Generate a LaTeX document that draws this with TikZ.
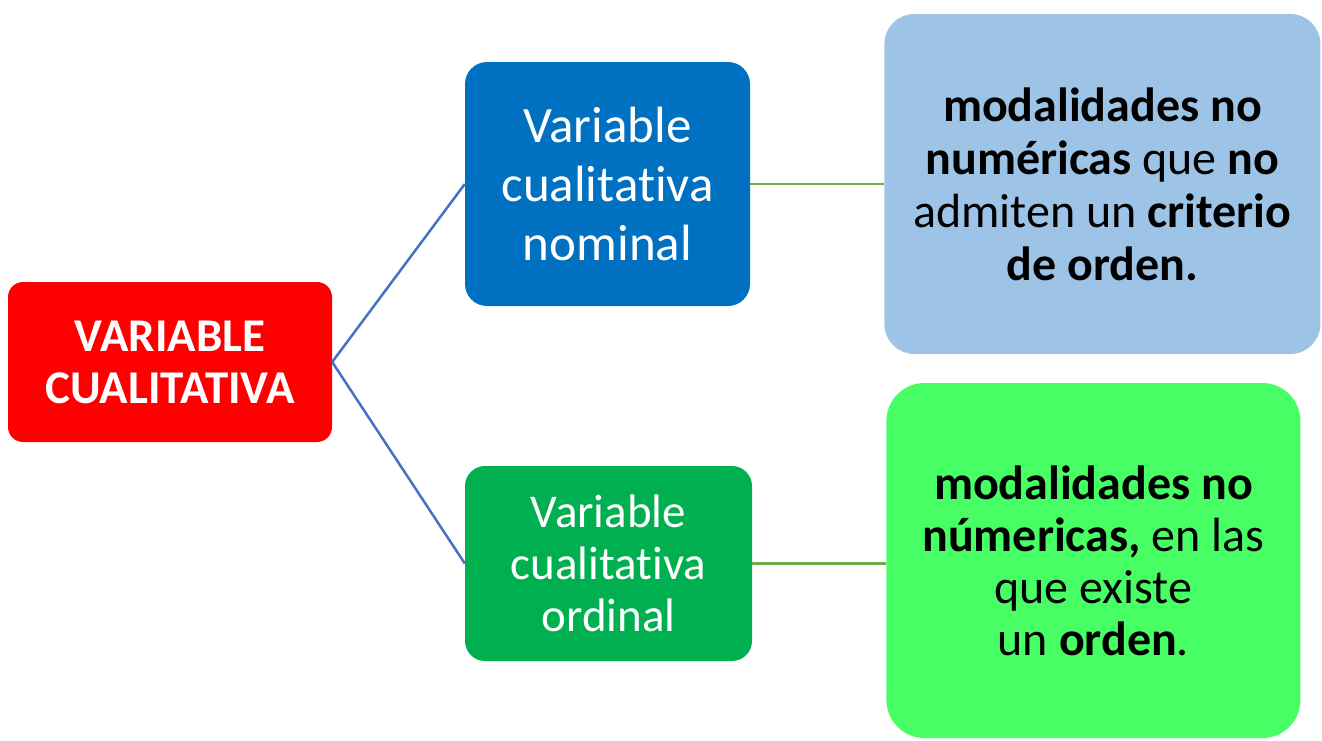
\documentclass[tikz,border=0pt]{standalone}
\usepackage{fontspec}
\setmainfont[Ligatures=NoCommon]{Carlito}
\usepackage{tikz}
\usetikzlibrary{positioning}
\definecolor{rojo}{HTML}{FF0000}
\definecolor{azul}{HTML}{0070C0}
\definecolor{verde}{HTML}{00B050}
\definecolor{azulclaro}{HTML}{9DC3E6}
\definecolor{verdeclaro}{HTML}{47FF64}
\definecolor{lineaazul}{HTML}{4472C4}
\definecolor{lineaverde}{HTML}{70AD47}
\tikzstyle{block} = [rectangle, inner sep=0pt, align=center, text centered]
\tikzstyle{line} = [draw, line width=2.5pt]

\begin{document}
\begin{tikzpicture}[x=1pt, y=-1pt]
   \useasboundingbox (0,0) rectangle (1322,740);
   % Place nodes
    \node [block, fill=rojo, text=white, rounded corners=15pt, minimum width=324pt, minimum height=160pt,
      font=\fontsize{47}{52}\selectfont\bfseries] (cual) at (170,362) {VARIABLE\\CUALITATIVA};
    \node [block, fill=azul, text=white, rounded corners=22pt, minimum width=285pt, minimum height=244pt,
      font=\fontsize{51}{59}\selectfont] (nominal) at (607.5,184) {Variable\\cualitativa\\nominal};
    \node [block, fill=verde, text=white, rounded corners=20pt, minimum width=287pt, minimum height=195pt,
      font=\fontsize{47}{52}\selectfont] (ordinal) at (608.5,563.5) {Variable\\cualitativa\\ordinal};
    \node [block, fill=azulclaro, rounded corners=30pt, minimum width=436pt, minimum height=340pt,
      font=\fontsize{48}{53}\selectfont, right=134pt of nominal] (defnominal)
      {\textbf{modalidades no}\\\textbf{numéricas} que \textbf{no}\\admiten un \textbf{criterio}\\\textbf{de orden.}};
    \node [block, fill=verdeclaro, rounded corners=38pt, minimum width=414pt, minimum height=355pt,
      font=\fontsize{48}{52}\selectfont, right=134pt of ordinal, yshift=3pt] (defordinal)
      {\textbf{modalidades no}\\\textbf{númericas,} en las\\que existe\\un \textbf{orden}.};
   % Draw edges
    \path [line, lineaazul] (cual.east) -- (nominal.west);
    \path [line, lineaazul] (cual.east) -- (ordinal.west);
    \path [line, lineaverde] (nominal.east) -- (defnominal.west);
    \path [line, lineaverde] (ordinal.east) -- (ordinal.east -| defordinal.west);
\end{tikzpicture}
\end{document}
